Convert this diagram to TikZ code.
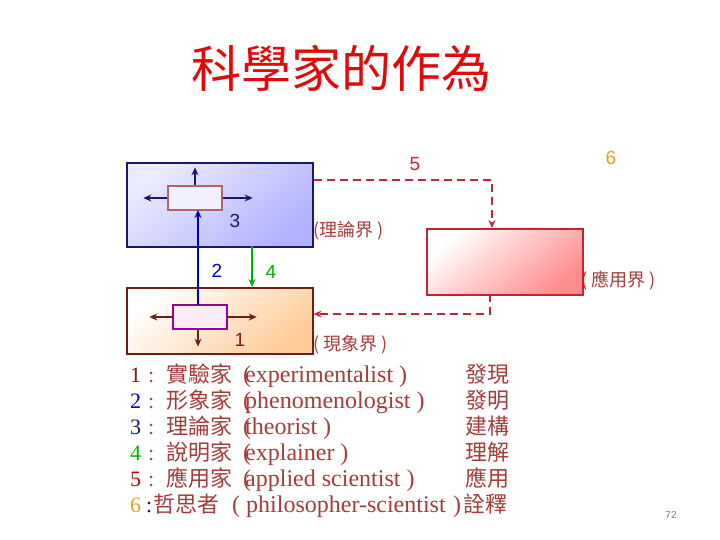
\documentclass[tikz,border=0pt]{standalone}
\usepackage{fontspec}
\setmainfont{Liberation Serif}
\setsansfont{Liberation Sans}
\newfontfamily\cjk{Noto Sans CJK TC}
\usetikzlibrary{arrows.meta}
\definecolor{navy}{RGB}{25,25,105}
\definecolor{brick}{RGB}{165,60,60}
\definecolor{dashred}{RGB}{190,40,50}
\definecolor{darkbrown}{RGB}{110,30,20}
\definecolor{gold}{RGB}{230,160,40}
\definecolor{titlered}{RGB}{225,10,10}
\tikzset{
  worldbox/.style={line width=1.6pt, minimum width=186pt, inner sep=0pt, anchor=north west},
  subbox/.style={line width=1.4pt, minimum width=54pt, minimum height=24pt, inner sep=0pt},
  lbl/.style={font=\sffamily\fontsize{19}{19}\selectfont},
  worldlbl/.style={font=\cjk\fontsize{18}{18}\selectfont, text=brick, anchor=west, inner sep=0pt},
  item/.style={font=\fontsize{22}{22}\selectfont, anchor=base west, inner sep=0pt},
  engitem/.style={item, font=\fontsize{24}{24}\selectfont, text=brick},
  cjkitem/.style={item, font=\cjk\fontsize{22}{22}\selectfont, text=brick},
  link/.style={line width=1.8pt, dashred, dash pattern=on 8pt off 5pt, -{Stealth[length=8pt,width=7pt]}},
}
\begin{document}
\begin{tikzpicture}[x=1pt, y=-1pt, >={Stealth[length=8pt,width=7pt]}]
    \useasboundingbox[fill=white] (0,0) rectangle (720,540);

    % title
    \node[font=\cjk\fontsize{50}{50}\selectfont, text=titlered] (title) at (341,68) {科學家的作為};

    % the three worlds
    \node[worldbox, draw=navy, minimum height=84pt,
          top color=blue!8!white, bottom color=blue!30!white, shading angle=40] (theory) at (126,162) {};
    \node[worldbox, draw=darkbrown, minimum height=66pt,
          top color=white, bottom color=orange!40!white, shading angle=40] (phen) at (126,287) {};
    \node[draw=dashred, line width=1.6pt, anchor=north west, minimum width=156pt, minimum height=66pt, inner sep=0pt,
          top color=white, bottom color=red!45!white, shading angle=40] (app) at (426,228) {};

    % small boxes inside
    \node[subbox, draw=brick!80, fill=blue!6] (thbox) at (195,198) {};
    \node[subbox, draw=violet!80!magenta, fill=magenta!8] (phbox) at (200,317) {};

    \draw[->, navy, line width=1.3pt] (thbox.north) -- ++(0,-18);
    \draw[->, navy, line width=1.3pt] (thbox.west) -- ++(-24,0);
    \draw[->, navy, line width=1.3pt] (thbox.east) -- ++(30,0);

    \draw[->, darkbrown, line width=1.3pt] (phbox.west) -- ++(-23,0);
    \draw[->, darkbrown, line width=1.3pt] (phbox.east) -- ++(29,0);
    \draw[->, darkbrown, line width=1.3pt] (phbox.south) ++(-2,0) -- ++(0,17);

    % 2 and 4
    \draw[->, blue!70!black, line width=1.3pt] (198,305) -- (198,210);
    \draw[->, green!70!black, line width=1.3pt] (252,246) -- (252,287);

    % 5 and back to phenomena
    \draw[link] (theory.east |- 0,180) -| (492,228);
    \draw[link] (490,294) |- (phen.east |- 0,314);

    % number labels
    \node[lbl, text=navy] (n3) at (235,221) {3};
    \node[lbl, text=blue!75!black] (n2) at (217,271) {2};
    \node[lbl, text=green!70!black] (n4) at (271,272) {4};
    \node[lbl, text=darkbrown] (n1) at (240,340) {1};
    \node[lbl, text=dashred] (n5) at (415,164) {5};
    \node[lbl, text=gold] (n6) at (611,158) {6};

    % world names
    \node[worldlbl] (thname) at (313,231) {(理論界 )};
    \node[worldlbl] (phname) at (313,345) {( 現象界 )};
    \node[worldlbl] (apname) at (581,281) {{\color{red}(} 應用界 )};

    % list of roles
    \foreach \k/\col/\who/\eng/\act in {
        1/darkbrown/實驗家/experimentalist/發現,
        2/blue!80!black/形象家/phenomenologist/發明,
        3/navy/理論家/theorist/建構,
        4/green!70!black/說明家/explainer/理解,
        5/red!75!black/應用家/applied scientist/應用}
    {
        \node[item, text=\col] (num\k) at (130,356+26*\k) {\k};
        \node[item, text=brick!70!gray] (col\k) at (148,356+26*\k) {:};
        \node[cjkitem] (who\k) at (166,356+26*\k) {\who};
        \node[engitem] (eng\k) at (243,356+26*\k) {(\kern-0.25em\eng\ )};
        \node[cjkitem] (act\k) at (465,356+26*\k) {\act};
    }
    \node[item, text=gold] (num6) at (130,512) {6};
    \node[item, text=navy] (col6) at (146,512) {:};
    \node[cjkitem] (who6) at (153,512) {哲思者};
    \node[engitem] (eng6) at (232,512) {( philosopher-scientist};
    \node[engitem] (close6) at (453,512) {)};
    \node[cjkitem] (act6) at (463,512) {詮釋};

    % page number
    \node[font=\sffamily\fontsize{10}{10}\selectfont, text=gray] (page) at (671,515) {72};
\end{tikzpicture}
\end{document}
